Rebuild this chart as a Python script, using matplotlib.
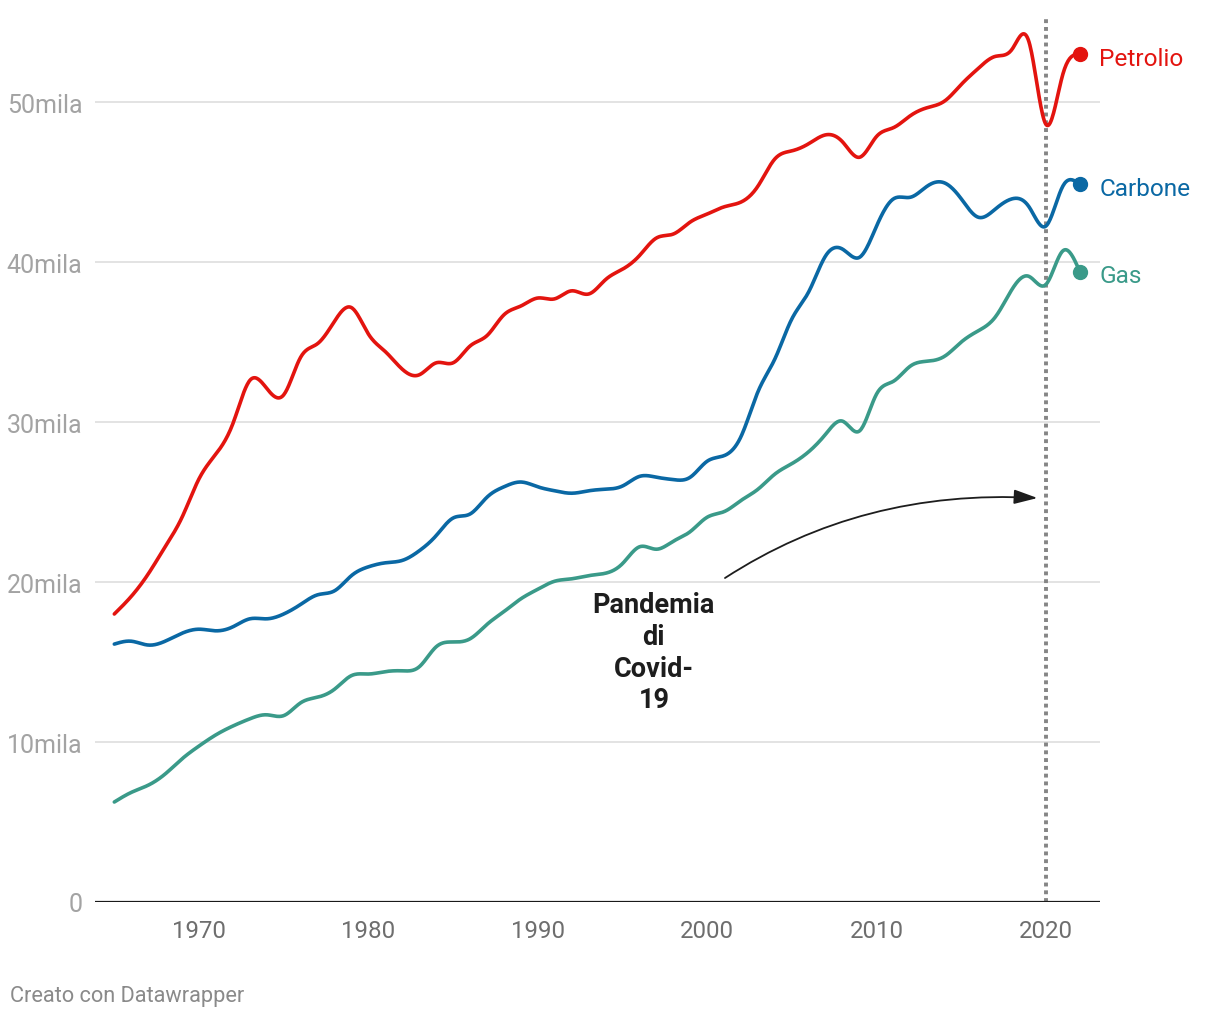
import numpy as np
import matplotlib
matplotlib.use("Agg")
import matplotlib.pyplot as plt

plt.rcParams['font.family'] = ['Roboto', 'DejaVu Sans']

years = list(range(1965, 2023))

petrolio = [18000, 19100, 20500, 22200, 24050, 26450, 28000, 29900, 32600, 32100,
            31700, 34050, 34900, 36300, 37150, 35500, 34400, 33300, 32950, 33700,
            33700, 34750, 35400, 36700, 37250, 37750, 37700, 38200, 38000, 38900,
            39550, 40400, 41500, 41750, 42500, 43000, 43450, 43750, 44750, 46450,
            46950, 47400, 47950, 47500, 46550, 47850, 48400, 49150, 49650, 50050,
            51100, 52100, 52850, 53300, 53750, 48600, 51750, 53000]

carbone = [16120, 16300, 16060, 16300, 16800, 17050, 16950, 17200, 17700, 17700,
           18000, 18600, 19200, 19450, 20400, 20950, 21200, 21350, 21950, 22900,
           24000, 24250, 25300, 25950, 26250, 25950, 25700, 25550, 25700, 25800,
           26000, 26600, 26550, 26400, 26550, 27550, 27900, 29100, 31900, 33950,
           36450, 38150, 40400, 40800, 40300, 42250, 43950, 44050, 44750, 44950,
           43950, 42800, 43300, 43950, 43450, 42250, 44750, 44850]

gas = [6250, 6850, 7300, 8000, 8950, 9750, 10450, 11000, 11450, 11700,
       11650, 12450, 12800, 13300, 14150, 14250, 14400, 14450, 14700, 15950,
       16250, 16450, 17350, 18150, 18950, 19550, 20050, 20200, 20400, 20550,
       21150, 22200, 22050, 22550, 23150, 24050, 24400, 25100, 25800, 26750,
       27400, 28150, 29250, 30050, 29450, 31750, 32550, 33500, 33800, 34100,
       35000, 35700, 36550, 38300, 39100, 38600, 40700, 39400]

series_names = ["Petrolio", "Carbone", "Gas"]
series_values = [petrolio, carbone, gas]
series_colors = ["#e3140f", "#0a68a4", "#3a9a89"]

y_ticks = [0, 10000, 20000, 30000, 40000, 50000]
y_labels = ["0", "10mila", "20mila", "30mila", "40mila", "50mila"]
x_ticks = [1970, 1980, 1990, 2000, 2010, 2020]
x_labels = ["1970", "1980", "1990", "2000", "2010", "2020"]

event_year = 2020
annotation_text = "Pandemia\ndi\nCovid-\n19"
credit = "Creato con Datawrapper"


def natural_spline(x, y, n_per=20):
    x = np.asarray(x, float)
    y = np.asarray(y, float)
    n = len(x)
    h = np.diff(x)
    A = np.zeros((n, n))
    b = np.zeros(n)
    A[0, 0] = 1
    A[-1, -1] = 1
    for i in range(1, n - 1):
        A[i, i - 1] = h[i - 1]
        A[i, i] = 2 * (h[i - 1] + h[i])
        A[i, i + 1] = h[i]
        b[i] = 3 * ((y[i + 1] - y[i]) / h[i] - (y[i] - y[i - 1]) / h[i - 1])
    c = np.linalg.solve(A, b)
    xs, ys = [], []
    for i in range(n - 1):
        bi = (y[i + 1] - y[i]) / h[i] - h[i] * (2 * c[i] + c[i + 1]) / 3
        di = (c[i + 1] - c[i]) / (3 * h[i])
        t = np.linspace(0, h[i], n_per, endpoint=False)
        xs.append(x[i] + t)
        ys.append(y[i] + bi * t + c[i] * t ** 2 + di * t ** 3)
    xs.append([x[-1]])
    ys.append([y[-1]])
    return np.concatenate(xs), np.concatenate(ys)


fig = plt.figure(figsize=(12.2, 10.2), dpi=100)
ax = fig.add_axes([95 / 1220, 117 / 1020, 1005 / 1220, 883 / 1020])

ax.set_xlim(1963.86, 2023.19)
ax.set_ylim(0, 55190)

for s in ax.spines.values():
    s.set_visible(False)

for yt in y_ticks[1:]:
    ax.axhline(yt, color="#e3e3e3", lw=1.4, zorder=1)
ax.axhline(0, color="#1a1a1a", lw=1.6, zorder=3)

ax.set_yticks(y_ticks)
ax.set_yticklabels(y_labels, color="#a3a3a3", fontsize=18)
ax.set_xticks(x_ticks)
ax.set_xticklabels(x_labels, color="#6e6e6e", fontsize=17.3)
ax.tick_params(axis="both", length=0)
ax.tick_params(axis="y", pad=9)
ax.tick_params(axis="x", pad=12)

ax.axvline(event_year, color="#858585", lw=2.8, linestyle=(0, (1, 1)), zorder=2)

for name, vals, col in zip(series_names, series_values, series_colors):
    xs, ys = natural_spline(years, vals)
    ax.plot(xs, ys, color=col, lw=2.6, zorder=4, solid_capstyle="round")
    ax.plot([years[-1]], [vals[-1]], "o", color=col, ms=10, zorder=5, clip_on=False)
    ax.annotate(name, xy=(years[-1], vals[-1]), xytext=(14, -3),
                textcoords="offset points", color=col, fontsize=17.6,
                va="center", ha="left", annotation_clip=False)

ax.text(1996.85, 15600, annotation_text, ha="center", va="center",
        multialignment="center", fontsize=19.5, fontweight="bold",
        color="#1d1d1d", linespacing=1.22, zorder=6)

ax.annotate("", xy=(2019.5, 25250), xytext=(2001.05, 20250),
            arrowprops=dict(arrowstyle="-|>,head_length=0.65,head_width=0.2",
                            connectionstyle="angle3,angleA=33,angleB=-3",
                            color="#1d1d1d", lw=1.3, mutation_scale=22,
                            shrinkA=0, shrinkB=0), zorder=6)

fig.text(10 / 1220, 1 - 997 / 1020, credit, color="#8a8a8a", fontsize=15.7,
         ha="left", va="center")

fig.savefig("out.png", dpi=100, facecolor="white")
